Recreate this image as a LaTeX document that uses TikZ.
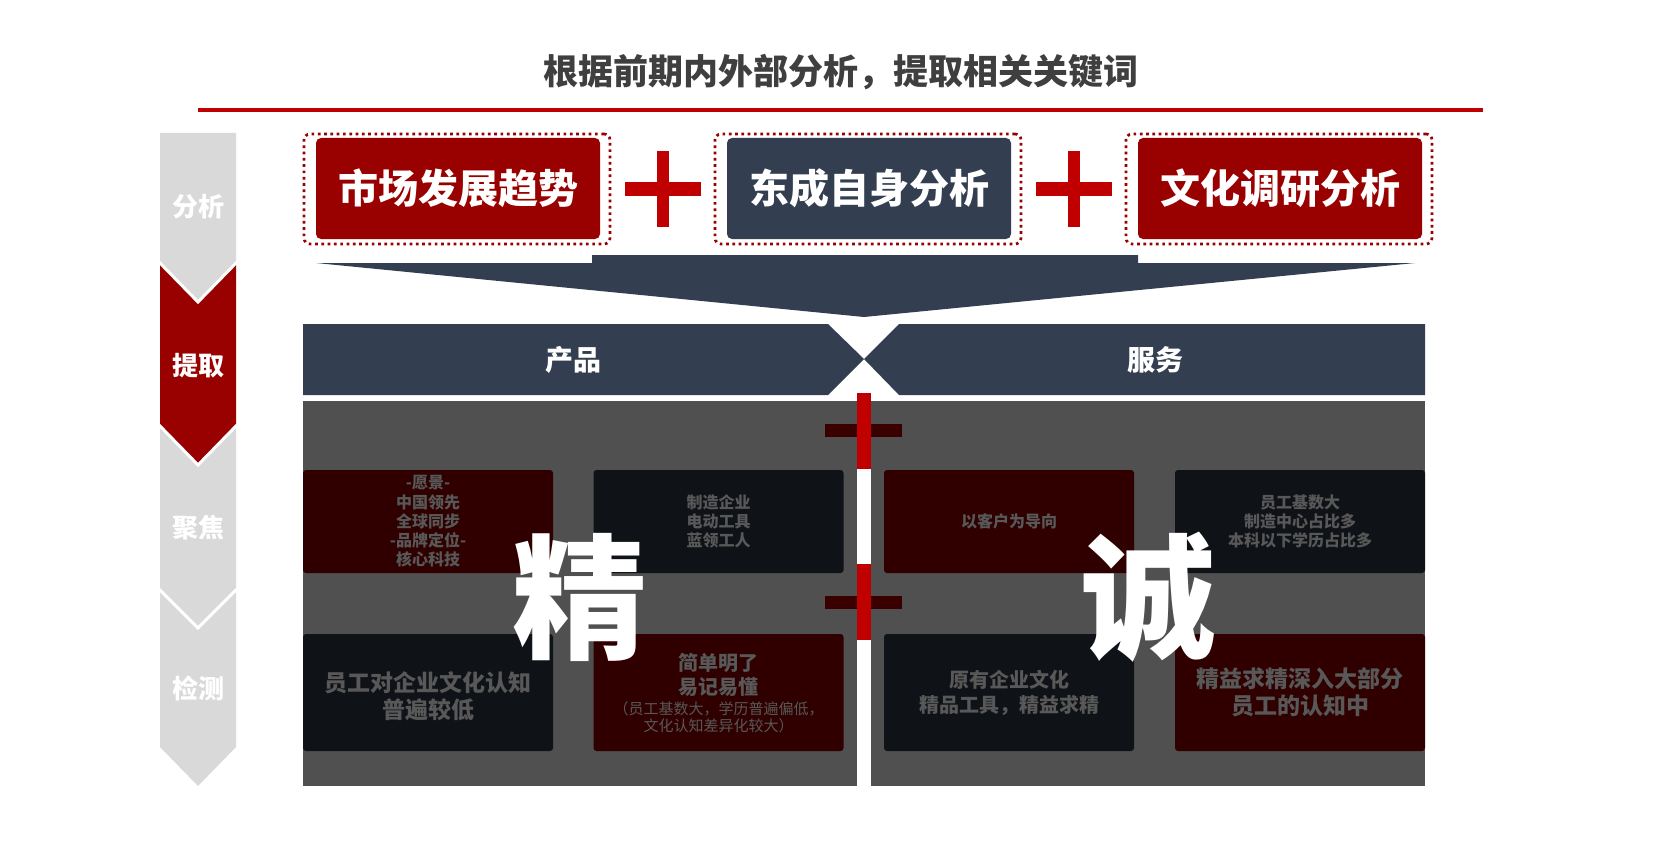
\documentclass[tikz,border=0pt]{standalone}
\usepackage{fontspec}
\setmainfont{Noto Sans CJK SC}
\usetikzlibrary{calc}

\definecolor{deepred}{HTML}{990000}
\definecolor{brightred}{HTML}{C00000}
\definecolor{slate}{HTML}{333F50}
\definecolor{veil}{HTML}{505050}
\definecolor{nightbox}{HTML}{0F1217}
\definecolor{winebox}{HTML}{300000}
\definecolor{dimtext}{HTML}{585858}
\definecolor{titlegray}{HTML}{3F3F3F}
\definecolor{sidegray}{HTML}{D9D9D9}
\definecolor{darkbar}{HTML}{3A0000}

\pgfdeclarehorizontalshading{grayside}{100bp}{color(0bp)=(gray!75); color(14bp)=(sidegray); color(100bp)=(sidegray)}
\pgfdeclarehorizontalshading{redside}{100bp}{color(0bp)=(deepred!45!black); color(14bp)=(deepred); color(100bp)=(deepred)}

\begin{document}
\begin{tikzpicture}[x=1pt,y=-1pt,
		keybox/.style={rounded corners=5pt,minimum width=284pt,minimum height=101pt,inner sep=0pt,text=white,font=\fontsize{40}{48}\selectfont\bfseries},
		dotframe/.style={draw=deepred,line width=2.7pt,dash pattern=on 2.7pt off 3.6pt,rounded corners=6pt,minimum width=306pt,minimum height=110pt},
		band/.style={text=white,font=\fontsize{28}{32}\selectfont\bfseries},
		stage/.style={text=white,font=\fontsize{26}{30}\selectfont\bfseries},
		cell/.style={rounded corners=3pt,minimum width=250pt,inner sep=0pt},
		dimnote/.style={text=dimtext,align=center,inner sep=0pt,font=\fontsize{16}{19.3}\selectfont\bfseries},
		dimbig/.style={text=dimtext,align=center,inner sep=0pt,font=\fontsize{23}{27}\selectfont\bfseries},
		bigchar/.style={text=white,inner sep=0pt,font=\fontsize{135}{135}\selectfont\bfseries}]
	\useasboundingbox[fill=white] (0,0) rectangle (1677,845);
	
	\node[text=titlegray,font=\fontsize{35}{40}\selectfont\bfseries] (title) at (841,72){根据前期内外部分析，提取相关关键词};
	\coordinate (L1) at (198,110);
	\coordinate (L2) at (1483,110);
	\draw[brightred,line width=4pt] (L1)--(L2);
	
	\shade[shading=grayside] (160,133)--(236,133)--(236,262)--(198,302)--(160,262)--cycle;
	\shade[shading=redside] (160,262)--(198,302)--(236,262)--(236,425)--(198,465)--(160,425)--cycle;
	\shade[shading=grayside] (160,425)--(198,465)--(236,425)--(236,589)--(198,628)--(160,589)--cycle;
	\shade[shading=grayside] (160,589)--(198,628)--(236,589)--(236,747)--(198,786)--(160,747)--cycle;
	\draw[white,line width=3pt] (159,262)--(198,302)--(237,262);
	\draw[white,line width=3pt] (159,425)--(198,465)--(237,425);
	\draw[white,line width=3pt] (159,589)--(198,628)--(237,589);
	\node[stage] (S1) at (198,207){分析};
	\node[stage] (S2) at (198,366){提取};
	\node[stage] (S3) at (198,528){聚焦};
	\node[stage] (S4) at (198,688){检测};
	
	\node[dotframe] (F1) at (457,189){};
	\node[keybox,fill=deepred] (K1) at (458,188.5){市场发展趋势};
	\node[dotframe] (F2) at (868,189){};
	\node[keybox,fill=slate] (K2) at (869,188.5){东成自身分析};
	\node[dotframe] (F3) at (1279,189){};
	\node[keybox,fill=deepred] (K3) at (1280,188.5){文化调研分析};
	
	\coordinate (P1) at (663,189);
	\fill[brightred] ($(P1)+(-6,-38)$) rectangle ($(P1)+(6,38)$);
	\fill[brightred] ($(P1)+(-38,-6.5)$) rectangle ($(P1)+(38,6.5)$);
	\coordinate (P2) at (1074,189);
	\fill[brightred] ($(P2)+(-6,-38)$) rectangle ($(P2)+(6,38)$);
	\fill[brightred] ($(P2)+(-38,-6.5)$) rectangle ($(P2)+(38,6.5)$);
	
	\coordinate (tip) at (864,317);
	\fill[slate] (316,263)--(592,263)--(592,255)--(1138,255)--(1138,263)--(1415,263)--(tip)--cycle;
	
	\coordinate (seam) at (864,359);
	\fill[slate] (303,324)--(828,324)--(seam)--(828,395)--(303,395)--cycle;
	\fill[slate] (1425,324)--(899,324)--(seam)--(899,395)--(1425,395)--cycle;
	\node[band] (prod) at (573,360){产品};
	\node[band] (serv) at (1155,360){服务};
	
	\fill[veil] (303,401) rectangle (857,786);
	\fill[veil] (871,401) rectangle (1425,786);
	
	\fill[darkbar] (825,424) rectangle (902,437);
	\fill[darkbar] (825,596) rectangle (902,609);
	\fill[brightred] (857,393) rectangle (871,469);
	\fill[brightred] (857,564) rectangle (871,640);
	
	\node[cell,fill=winebox,minimum height=103pt] (A1) at (428,521.5){};
	\node[cell,fill=nightbox,minimum height=103pt] (A2) at (718.5,521.5){};
	\node[cell,fill=nightbox,minimum height=117pt] (A3) at (428,692.5){};
	\node[cell,fill=winebox,minimum height=117pt] (A4) at (718.5,692.5){};
	\node[cell,fill=winebox,minimum height=103pt] (B1) at (1009,521.5){};
	\node[cell,fill=nightbox,minimum height=103pt] (B2) at (1300,521.5){};
	\node[cell,fill=nightbox,minimum height=117pt] (B3) at (1009,692.5){};
	\node[cell,fill=winebox,minimum height=117pt] (B4) at (1300,692.5){};
	
	\node[dimnote] (a1) at (A1){-愿景-\\中国领先\\全球同步\\-品牌定位-\\核心科技};
	\node[dimnote] (a2) at (A2){制造企业\\电动工具\\蓝领工人};
	\node[dimbig] (a3) at (428,696){员工对企业文化认知\\普遍较低};
	\node[dimbig,font=\fontsize{20}{23.5}\selectfont\bfseries] (a4) at (718.5,675){简单明了\\易记易懂};
	\node[dimnote,font=\fontsize{15}{17}\selectfont] (a5) at (718.5,717.5){（员工基数大，学历普遍偏低，\\文化认知差异化较大）};
	\node[dimnote] (b1) at (B1){以客户为导向};
	\node[dimnote] (b2) at (B2){员工基数大\\制造中心占比多\\本科以下学历占比多};
	\node[dimbig,font=\fontsize{20}{25}\selectfont\bfseries] (b3) at (B3){原有企业文化\\精品工具，精益求精};
	\node[dimbig] (b4) at (B4){精益求精深入大部分\\员工的认知中};
	
	\node[bigchar] (jing) at (580,597){精};
	\node[bigchar] (cheng) at (1148,597){诚};
\end{tikzpicture}
\end{document}
